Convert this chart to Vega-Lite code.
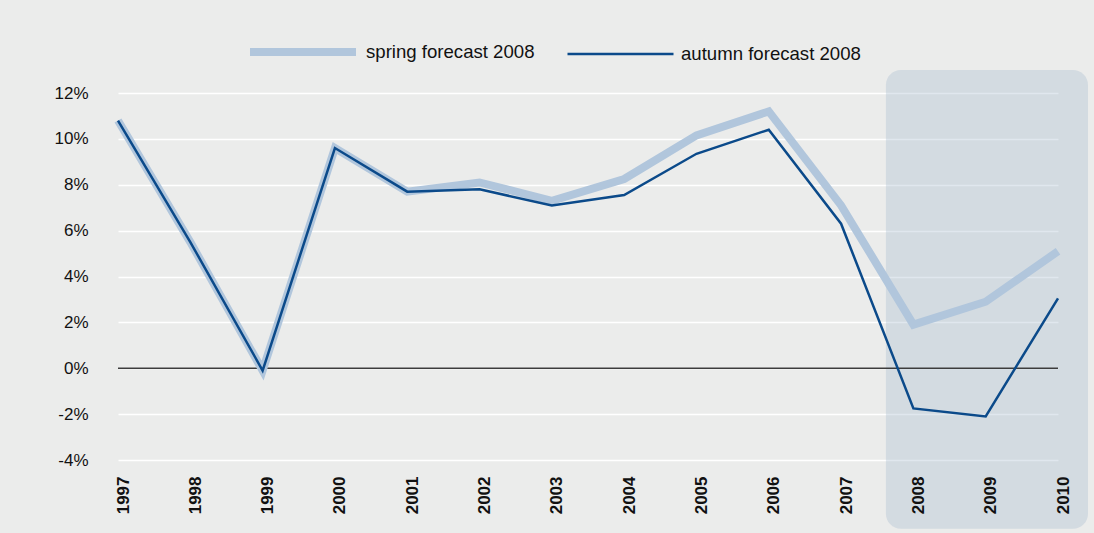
{
  "$schema": "https://vega.github.io/schema/vega-lite/v6.json",
  "width": 940,
  "height": 367,
  "autosize": {"type": "none"},
  "padding": {"left": 118, "top": 93, "right": 36, "bottom": 73},
  "background": "#ebeceb",
  "config": {
    "view": {"stroke": null},
    "font": "Liberation Sans",
    "legend": {"padding": 0}
  },
  "data": {
    "values": [
      {"year": 1997, "series": "spring forecast 2008", "value": 10.8},
      {"year": 1998, "series": "spring forecast 2008", "value": 5.5},
      {"year": 1999, "series": "spring forecast 2008", "value": -0.1},
      {"year": 2000, "series": "spring forecast 2008", "value": 9.6},
      {"year": 2001, "series": "spring forecast 2008", "value": 7.7},
      {"year": 2002, "series": "spring forecast 2008", "value": 8.1},
      {"year": 2003, "series": "spring forecast 2008", "value": 7.3},
      {"year": 2004, "series": "spring forecast 2008", "value": 8.25},
      {"year": 2005, "series": "spring forecast 2008", "value": 10.15},
      {"year": 2006, "series": "spring forecast 2008", "value": 11.2},
      {"year": 2007, "series": "spring forecast 2008", "value": 7.1},
      {"year": 2008, "series": "spring forecast 2008", "value": 1.9},
      {"year": 2009, "series": "spring forecast 2008", "value": 2.9},
      {"year": 2010, "series": "spring forecast 2008", "value": 5.1},
      {"year": 1997, "series": "autumn forecast 2008", "value": 10.8},
      {"year": 1998, "series": "autumn forecast 2008", "value": 5.5},
      {"year": 1999, "series": "autumn forecast 2008", "value": -0.1},
      {"year": 2000, "series": "autumn forecast 2008", "value": 9.6},
      {"year": 2001, "series": "autumn forecast 2008", "value": 7.7},
      {"year": 2002, "series": "autumn forecast 2008", "value": 7.8},
      {"year": 2003, "series": "autumn forecast 2008", "value": 7.1},
      {"year": 2004, "series": "autumn forecast 2008", "value": 7.55},
      {"year": 2005, "series": "autumn forecast 2008", "value": 9.35},
      {"year": 2006, "series": "autumn forecast 2008", "value": 10.4},
      {"year": 2007, "series": "autumn forecast 2008", "value": 6.3},
      {"year": 2008, "series": "autumn forecast 2008", "value": -1.75},
      {"year": 2009, "series": "autumn forecast 2008", "value": -2.1},
      {"year": 2010, "series": "autumn forecast 2008", "value": 3.05}
    ]
  },
  "layer": [
    {
      "data": {"values": [{"period": "forecast"}]},
      "mark": {"type": "rect", "fill": "#a9bcd0", "opacity": 0.36, "strokeWidth": 0, "cornerRadius": 15},
      "encoding": {
        "x": {"datum": 2007.62, "type": "quantitative"},
        "x2": {"datum": 2010.415},
        "y": {"datum": 13, "type": "quantitative"},
        "y2": {"datum": -7}
      }
    },
    {
      "data": {"values": [{"ref": 0}]},
      "mark": {"type": "rule", "color": "#3c3c3c", "strokeWidth": 1.5},
      "encoding": {"y": {"datum": 0, "type": "quantitative"}}
    },
    {
      "transform": [{"filter": "datum.series === 'spring forecast 2008'"}],
      "mark": {"type": "line", "strokeJoin": "miter"},
      "encoding": {
        "x": {"field": "year", "type": "quantitative"},
        "y": {"field": "value", "type": "quantitative"},
        "color": {
          "field": "series", "type": "nominal",
          "scale": {"domain": ["spring forecast 2008", "autumn forecast 2008"], "range": ["#b1c6dc", "#0b4a8a"]},
          "legend": {
            "title": null, "orient": "none", "legendX": 128, "legendY": -98,
            "direction": "horizontal", "symbolType": "stroke", "symbolSize": 11236,
            "labelFontSize": 18.6, "labelColor": "#111111", "labelOffset": 6,
            "labelLimit": 400, "columnPadding": 27
          }
        },
        "strokeWidth": {
          "field": "series", "type": "nominal",
          "scale": {"domain": ["spring forecast 2008", "autumn forecast 2008"], "range": [8, 2.5]},
          "legend": {
            "title": null, "orient": "none", "legendX": 128, "legendY": -98,
            "direction": "horizontal", "symbolType": "stroke", "symbolSize": 11236,
            "labelFontSize": 18.6, "labelColor": "#111111", "labelOffset": 6,
            "labelLimit": 400, "columnPadding": 27
          }
        }
      }
    },
    {
      "transform": [{"filter": "datum.series === 'autumn forecast 2008'"}],
      "mark": {"type": "line", "strokeJoin": "miter"},
      "encoding": {
        "x": {"field": "year", "type": "quantitative"},
        "y": {"field": "value", "type": "quantitative"},
        "color": {
          "field": "series", "type": "nominal",
          "scale": {"domain": ["spring forecast 2008", "autumn forecast 2008"], "range": ["#b1c6dc", "#0b4a8a"]},
          "legend": {
            "title": null, "orient": "none", "legendX": 128, "legendY": -98,
            "direction": "horizontal", "symbolType": "stroke", "symbolSize": 11236,
            "labelFontSize": 18.6, "labelColor": "#111111", "labelOffset": 6,
            "labelLimit": 400, "columnPadding": 27
          }
        },
        "strokeWidth": {
          "field": "series", "type": "nominal",
          "scale": {"domain": ["spring forecast 2008", "autumn forecast 2008"], "range": [8, 2.5]},
          "legend": {
            "title": null, "orient": "none", "legendX": 128, "legendY": -98,
            "direction": "horizontal", "symbolType": "stroke", "symbolSize": 11236,
            "labelFontSize": 18.6, "labelColor": "#111111", "labelOffset": 6,
            "labelLimit": 400, "columnPadding": 27
          }
        }
      }
    }
  ],
  "encoding": {
    "x": {
      "type": "quantitative",
      "scale": {"domain": [1997, 2010], "nice": false, "zero": false},
      "axis": {
        "title": null,
        "values": [1997, 1998, 1999, 2000, 2001, 2002, 2003, 2004, 2005, 2006, 2007, 2008, 2009, 2010],
        "format": "d",
        "grid": false,
        "domain": false,
        "ticks": false,
        "tickSize": 0,
        "zindex": 1,
        "labelAngle": -90,
        "labelAlign": "right",
        "labelBaseline": "middle",
        "labelFontWeight": "bold",
        "labelFontSize": 17,
        "labelColor": "#111111",
        "labelPadding": 16,
        "labelOffset": 5,
        "labelFlush": false,
        "labelOverlap": false
      }
    },
    "y": {
      "type": "quantitative",
      "scale": {"domain": [-4, 12], "nice": false},
      "axis": {
        "title": null,
        "values": [-4, -2, 0, 2, 4, 6, 8, 10, 12],
        "labelExpr": "datum.value + '%'",
        "grid": true,
        "gridColor": "#ffffff",
        "gridWidth": 1.5,
        "domain": false,
        "ticks": false,
        "tickSize": 0,
        "labelFontSize": 17,
        "labelColor": "#111111",
        "labelPadding": 30
      }
    }
  }
}
